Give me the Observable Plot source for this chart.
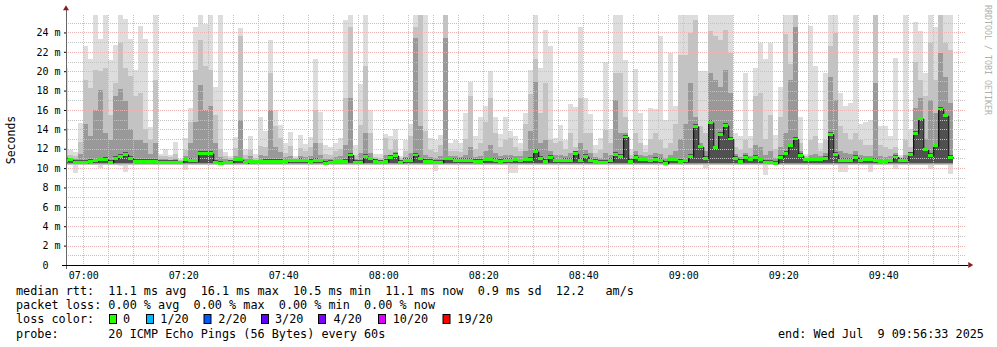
<!DOCTYPE html>
<html><head><meta charset="utf-8">
<script src="https://cdn.jsdelivr.net/npm/d3@7"></script>
<script src="https://cdn.jsdelivr.net/npm/@observablehq/plot@0.6"></script>
<style>
html,body{margin:0;padding:0;background:#fff;}
#chart{width:997px;height:347px;overflow:hidden;}
</style></head><body><div id="chart"></div>
<script>
// ---- data: one value per minute, first column = 06:56 UTC ----
const firstMinute = "2025-07-09T06:56:00Z";
const rangeStart = "2025-07-09T06:56:33Z";
const rangeEnd = "2025-07-09T09:56:33Z";

const medianMs = [
10.8,10.85,10.6,10.6,10.6,10.7,10.75,10.85,10.9,10.6,
11.0,11.2,11.4,11.0,10.7,10.7,10.7,10.7,10.7,10.6,
10.6,10.6,10.6,10.6,10.85,10.8,10.75,11.5,11.5,11.5,
10.6,10.5,10.55,10.6,10.85,10.85,10.55,10.65,10.65,10.65,
10.7,10.7,10.7,10.7,10.65,10.75,10.75,10.8,10.75,10.7,
10.8,10.75,10.5,10.6,10.65,10.65,10.7,11.35,10.6,10.6,
11.2,10.95,10.7,10.6,10.7,11.1,11.3,10.6,10.8,10.8,
11.35,10.95,10.7,10.7,10.6,10.6,10.95,10.95,10.8,10.8,
10.8,10.8,10.7,10.7,10.85,10.85,10.8,10.7,10.8,10.8,
10.85,10.75,10.85,10.9,11.7,11.0,10.7,11.1,10.75,10.75,
10.8,10.8,11.5,10.8,11.2,10.8,10.7,10.6,10.6,10.8,
11.4,11.2,13.2,10.7,11.1,10.85,10.85,10.75,10.9,10.8,
10.5,10.85,10.85,10.7,10.75,11.2,14.3,12.2,11.0,14.7,
12.1,13.5,14.4,13.0,11.0,10.7,11.1,10.85,11.1,10.85,
10.6,10.6,10.5,11.1,11.5,12.3,13.0,11.3,10.85,10.85,
10.85,10.85,11.0,13.5,11.4,10.8,10.8,10.8,11.1,10.8,
10.85,10.85,10.8,10.65,10.65,10.75,11.15,10.8,10.8,11.4,
13.6,15.1,11.9,11.3,12.3,16.1,15.4,11.1
];
const maxMs = [
20.3,11.9,11.7,14.7,22.6,21.3,25.9,23.3,25.9,21.2,
22.7,25.9,25.4,23.3,20.1,24.7,23.3,14.2,25.9,11.5,
12.0,11.4,12.7,10.9,13.1,16.2,24.6,25.9,24.9,25.9,
18.4,25.9,11.7,11.2,13.2,24.5,12.0,13.3,11.5,15.3,
13.8,23.2,16.0,14.4,12.6,13.7,11.2,13.4,12.5,13.2,
21.3,15.8,12.4,12.2,12.6,13.1,25.3,25.9,12.4,18.7,
25.9,16.0,11.5,11.5,13.5,13.3,14.0,11.2,12.9,14.5,
25.9,25.9,25.9,13.1,12.9,13.4,25.9,12.6,12.9,12.6,
15.7,18.9,13.3,15.3,16.4,20.0,15.3,13.5,15.3,13.8,
13.3,12.6,15.7,20.1,25.9,20.3,24.3,22.6,13.1,14.4,
12.9,16.6,16.3,24.6,17.2,15.6,12.4,13.1,21.0,14.0,
25.9,25.9,21.2,12.0,20.2,15.7,12.4,16.2,16.1,23.6,
15.0,21.9,16.4,25.9,25.9,25.9,25.9,20.0,20.0,25.9,
25.9,25.9,25.9,25.9,13.6,13.3,19.8,13.3,20.3,22.9,
21.3,22.9,13.4,18.4,25.9,25.9,25.9,15.3,11.5,24.7,
20.5,12.6,19.8,25.9,25.9,17.7,16.4,16.7,25.9,14.5,
14.8,15.0,25.9,14.3,14.3,13.3,21.4,11.4,25.9,14.0,
25.1,24.1,19.8,25.9,24.6,25.9,25.9,25.9
];
const highMs = [
14.1,11.4,11.2,12.7,19.1,18.3,20.1,20.0,20.3,15.5,
18.8,22.9,20.3,19.5,17.4,17.7,14.0,12.9,19.1,11.2,
11.2,11.1,11.5,10.8,11.9,14.8,20.1,23.2,20.5,20.1,
15.5,12.0,11.2,11.0,12.1,23.6,11.4,11.9,11.0,12.3,
12.2,19.8,14.3,13.1,11.6,12.3,11.0,12.1,11.8,12.2,
16.0,12.6,11.5,11.4,11.8,12.0,17.2,24.6,11.4,14.4,
20.5,13.6,11.1,11.0,13.1,11.9,12.9,11.0,11.8,13.3,
24.6,25.9,13.8,11.9,11.7,12.4,25.9,11.8,11.8,11.7,
13.0,17.4,12.0,12.6,14.8,17.2,13.6,12.2,12.9,13.1,
12.2,11.8,14.6,17.6,21.3,15.7,18.8,12.9,12.6,12.8,
12.0,13.6,12.2,17.2,13.6,13.6,11.6,11.9,13.9,12.6,
19.8,19.8,15.3,11.4,13.6,12.6,11.7,13.0,13.6,12.9,
12.1,12.6,14.6,21.7,21.7,23.9,25.3,14.3,13.6,24.1,
23.6,23.2,24.3,21.9,12.2,11.9,12.9,12.1,17.4,17.7,
13.0,15.5,12.0,15.3,23.8,20.7,25.9,12.6,11.2,12.9,
13.3,11.8,12.9,22.6,23.9,14.3,13.6,12.9,13.6,12.9,
12.4,12.4,25.9,12.4,12.2,12.0,12.2,11.1,12.9,12.2,
20.9,19.1,17.4,22.9,19.1,25.9,22.9,22.2
];
const innerMs = [
11.3,11.0,10.9,11.5,14.6,13.3,16.0,18.1,13.6,12.9,
17.4,18.2,16.9,14.0,12.9,12.9,12.6,11.5,12.6,10.9,
10.9,10.85,10.9,10.7,11.2,12.6,14.8,18.6,16.0,16.4,
12.6,11.1,10.9,10.8,11.2,15.0,10.9,11.2,10.85,11.4,
11.2,16.0,12.2,11.7,11.1,11.3,10.9,11.2,11.1,11.3,
12.6,11.4,10.9,10.9,11.1,11.2,12.4,17.2,10.9,11.6,
13.6,11.6,10.9,10.8,11.4,11.4,11.7,10.8,11.1,11.6,
23.4,14.3,11.4,11.1,11.0,11.2,23.4,11.3,11.2,11.1,
11.4,12.2,11.1,11.3,11.8,12.4,11.6,11.2,11.4,11.4,
11.3,11.2,11.8,13.8,18.9,12.6,12.9,11.8,11.4,11.4,
11.3,11.6,11.8,12.6,11.9,11.6,11.1,11.0,11.6,11.4,
17.0,13.6,13.6,11.0,11.8,11.4,11.2,11.4,11.6,11.5,
11.0,11.4,11.8,13.0,14.6,18.8,15.3,12.6,11.8,19.8,
19.1,18.4,20.1,17.7,11.5,11.1,11.6,11.3,12.4,12.2,
11.4,11.8,11.0,12.2,13.6,19.1,24.6,11.8,11.0,11.4,
11.5,11.2,11.6,19.4,17.0,11.8,11.6,11.5,11.8,11.4,
11.3,11.3,18.8,11.2,11.1,11.3,11.6,11.0,11.4,11.7,
16.2,17.2,13.0,17.0,15.7,21.9,19.4,16.7
];
const minMs = [
10.3,10.3,9.5,10.3,10.3,10.3,10.3,10.0,10.3,10.4,
10.3,10.2,9.6,10.3,10.3,10.3,10.3,10.3,10.3,10.3,
10.3,10.3,10.3,10.3,9.8,10.3,10.3,10.5,10.5,10.5,
10.3,10.3,10.3,10.3,10.3,10.3,10.3,10.3,10.3,10.3,
10.3,10.3,10.3,10.3,10.3,10.3,10.3,10.3,10.3,10.3,
10.3,10.3,10.3,10.3,10.3,10.3,10.3,10.4,10.3,10.3,
10.4,10.3,10.3,10.3,10.3,10.4,10.4,10.3,10.3,10.3,
10.4,10.3,10.3,10.3,9.65,10.3,10.3,10.4,10.3,10.3,
10.3,10.3,10.3,10.3,10.3,10.3,10.3,10.3,10.3,9.5,
9.5,10.3,10.3,10.3,10.4,10.3,10.3,10.4,10.3,10.3,
10.3,10.3,10.4,10.3,10.3,10.3,10.3,10.3,10.3,10.3,
10.4,10.3,10.4,10.3,10.3,10.3,10.3,10.3,10.3,10.3,
10.2,10.3,10.3,10.3,10.3,10.4,10.5,10.4,10.0,10.4,
10.4,10.4,10.4,10.4,10.3,10.3,10.3,10.3,10.3,10.3,
9.3,10.3,10.3,10.3,10.4,10.4,10.4,10.3,10.3,10.3,
10.3,10.3,10.3,10.4,10.4,9.55,9.55,10.3,10.3,10.3,
10.3,9.55,10.3,10.3,10.3,10.3,9.9,10.3,10.3,10.4,
10.4,10.5,10.4,9.9,10.4,10.5,10.5,9.4
];

const yTicks = [0,2,4,6,8,10,12,14,16,18,20,22,24];
const yMinor = [1,3,5,7,9,11,13,15,17,19,21,23,25];
const xMajorLabels = ["07:00","07:20","07:40","08:00","08:20","08:40","09:00","09:20","09:40"];
const xMinorLabels = ["07:05","07:10","07:15","07:25","07:30","07:35","07:45","07:50","07:55",
  "08:05","08:10","08:15","08:25","08:30","08:35","08:45","08:50","08:55",
  "09:05","09:10","09:15","09:25","09:30","09:35","09:45","09:50","09:55"];

const legendRtt = "median rtt:  11.1 ms avg  16.1 ms max  10.5 ms min  11.1 ms now  0.9 ms sd  12.2   am/s";
const legendLoss = "packet loss: 0.00 % avg  0.00 % max  0.00 % min  0.00 % now";
const legendColorTitle = "loss color:";
const lossLabels = ["0","1/20","2/20","3/20","4/20","10/20","19/20"];
const lossColors = ["#26ff00","#00b8ff","#0059ff","#5e00ff","#7e00ff","#dd00ff","#ff0000"];
const legendProbe = "probe:       20 ICMP Echo Pings (56 Bytes) every 60s";
const legendEnd = "end: Wed Jul  9 09:56:33 2025";
const yTitle = "Seconds";
const watermark = "RRDTOOL / TOBI OETIKER";

// ---- build table ----
const t0 = new Date(firstMinute).getTime();
const at = hm => new Date(`2025-07-09T${hm}:00Z`);
const rows = medianMs.map((m, i) => ({
  t: new Date(t0 + i * 60000), t2: new Date(t0 + (i + 1) * 60000),
  med: m, top: maxMs[i], mid: highMs[i], dark: innerMs[i], lo: minMs[i]
}));
const stepRows = rows.concat([{t: rows[rows.length - 1].t2, med: medianMs[medianMs.length - 1]}]);
const xStart = new Date(rangeStart), xEnd = new Date(rangeEnd);

const crisp = {shapeRendering: "crispEdges", clip: true};
const chart = Plot.plot({
  width: 997, height: 347,
  marginLeft: 66, marginRight: 31, marginTop: 15, marginBottom: 82,
  style: {fontFamily: "'DejaVu Sans Mono', monospace", fontSize: "10px", background: "#ffffff", color: "#000"},
  x: {type: "utc", domain: [xStart, xEnd], ticks: xMajorLabels.map(at), tickFormat: d3.utcFormat("%H:%M"),
      tickSize: 0, tickPadding: 6, label: null},
  y: {domain: [0, 25.8], ticks: yTicks, tickFormat: d => d === 0 ? "0\u00a0\u00a0" : d + " m",
      tickSize: 2, tickPadding: 4, label: null},
  marks: [
    Plot.rect(rows, {x1: "t", x2: "t2", y1: "lo", y2: "top", fill: "#dddddd", ...crisp}),
    Plot.rect(rows, {x1: "t", x2: "t2", y1: 10.35, y2: "mid", fill: "#c3c3c3", ...crisp}),
    Plot.rect(rows, {x1: "t", x2: "t2", y1: 10.45, y2: "dark", fill: "#999999", ...crisp}),
    Plot.rect(rows, {x1: "t", x2: "t2", y1: 10.55, y2: d => Math.min(d.med + 0.22, Math.max(d.dark, d.med)), fill: "#505050", ...crisp}),
    Plot.ruleY(yMinor, {stroke: "#c2c2c2", strokeDasharray: "1,1", shapeRendering: "crispEdges"}),
    Plot.ruleY(yTicks.filter(d => d > 0), {stroke: "#eab4b4", strokeDasharray: "1,1", shapeRendering: "crispEdges"}),
    Plot.ruleX(xMinorLabels.map(at), {stroke: "#c2c2c2", strokeDasharray: "1,1", shapeRendering: "crispEdges"}),
    Plot.ruleX(xMajorLabels.map(at), {stroke: "#eab4b4", strokeDasharray: "1,1", shapeRendering: "crispEdges"}),
    Plot.line(stepRows, {x: "t", y: "med", curve: "step-after", stroke: "#000", strokeWidth: 1, clip: true}),
    Plot.rect(rows, {x1: "t", x2: "t2", y1: d => d.med - 0.14, y2: d => d.med + 0.15, fill: "#20ff00", ...crisp}),
    Plot.ruleX([xStart], {y1: -0.4, y2: 26.3, stroke: "#666", shapeRendering: "crispEdges"}),
    Plot.ruleY([0], {x1: new Date(xStart.getTime() - 50000), x2: new Date(xEnd.getTime() + 27000), stroke: "#000", shapeRendering: "crispEdges"})
  ]
});
document.getElementById("chart").appendChild(chart);

// ---- decorations (arrows, titles, legend) ----
const svg = d3.select(chart);
const sx = chart.scale("x"), sy = chart.scale("y");
const ax = sx.apply(xStart), ay = sy.apply(26.3);
svg.append("polygon").attr("fill", "#8b1a1a")
  .attr("points", `${ax - 3},${ay} ${ax + 3},${ay} ${ax},${ay - 5}`);
const bx = sx.apply(new Date(xEnd.getTime() + 27000)), by = sy.apply(0);
svg.append("polygon").attr("fill", "#8b1a1a")
  .attr("points", `${bx},${by - 3} ${bx},${by + 3} ${bx + 5},${by}`);

svg.append("text").text(yTitle)
  .attr("transform", `translate(15,${(sy.apply(0) + sy.apply(25.8)) / 2}) rotate(-90)`)
  .attr("text-anchor", "middle").attr("font-family", "'DejaVu Sans Mono', monospace")
  .attr("font-size", "11.5px").attr("fill", "#000");

svg.append("text").text(watermark)
  .attr("transform", "translate(985,5) rotate(90)")
  .attr("text-anchor", "start")
  .attr("font-family", "'DejaVu Sans Mono', monospace")
  .attr("font-size", "8.3px").attr("fill", "#b0b0b0");

const lg = svg.append("g").attr("font-family", "'DejaVu Sans Mono', monospace")
  .attr("text-anchor", "start")
  .attr("font-size", "11.8px").attr("fill", "#000").attr("xml:space", "preserve").style("white-space", "pre");
[[legendRtt, 295], [legendLoss, 309], [legendColorTitle, 323], [legendProbe, 337.5]].forEach(([s, y]) => {
  lg.append("text").attr("x", 16).attr("y", y).text(s);
});
const boxX = [109, 146, 203.5, 261, 318, 378, 442.5];
const labX = [123, 160.3, 218.3, 275, 333.5, 392.7, 457.3];
lossLabels.forEach((s, i) => {
  lg.append("rect").attr("x", boxX[i] + 0.5).attr("y", 314.5).attr("width", 7).attr("height", 9)
    .attr("fill", lossColors[i]).attr("stroke", "#000").attr("stroke-width", 1);
  lg.append("text").attr("x", labX[i]).attr("y", 323).text(s);
});
lg.append("text").attr("x", 778).attr("y", 337.5).text(legendEnd);
</script></body></html>
